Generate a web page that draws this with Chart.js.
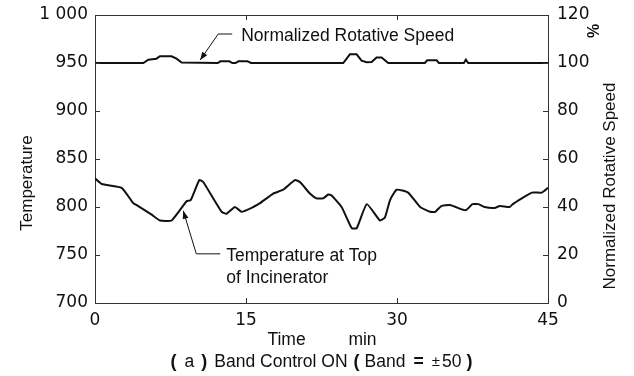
<!DOCTYPE html>
<html>
<head>
<meta charset="utf-8">
<script src="https://cdn.jsdelivr.net/npm/chart.js@4"></script>
<style>
  html, body { margin: 0; padding: 0; background: #fff; }
</style>
</head>
<body>
<canvas id="chart" width="634" height="376"></canvas>
<script>
// incinerator run: top temperature and normalized fan speed vs time (min)
const timeTicks = [0, 15, 30, 45];
const tempTicks = [700, 750, 800, 850, 900, 950, 1000];
const speedTicks = [0, 20, 40, 60, 80, 100, 120];

const tempTime = [0, 0.67, 2.65, 3.8, 4.14, 5.63, 6.45, 7.62, 9.1, 9.5, 10.36, 10.75, 12.58, 13.08, 13.9,
  14.57, 15.72, 16.39, 17.7, 18.7, 19.86, 20.36, 21.35, 22.0, 22.67, 23.17, 23.5, 24.5, 25.5, 26.0,
  27.0, 28.3, 28.8, 29.3, 29.96, 31.1, 32.3, 33.3, 33.8, 34.4, 35.25, 36.6, 36.9, 37.5, 38.1,
  38.7, 39.7, 40.2, 41.2, 41.5, 42.4, 43.4, 44.4, 45];
const tempValues = [830, 824, 820, 804, 802, 792, 786, 786, 806, 807, 828, 826, 795, 793, 800,
  795, 800, 804, 814, 818, 828, 826, 814, 809, 809, 813, 812, 800, 778, 778,
  803, 786, 789, 807, 818, 815, 800, 795, 795, 801, 802, 797, 797, 803, 803,
  800, 799, 801, 800, 803, 809, 815, 815, 820];

const speedTime = [0, 4.8, 5.3, 6.1, 6.45, 7.6, 8.1, 8.6, 12.2, 12.45, 13.35, 13.65, 13.95, 14.25, 15.15,
  15.5, 24.66, 25.32, 25.99, 26.48, 26.98, 27.48, 27.97, 28.47, 29.13, 32.77, 33.0, 33.93, 34.16,
  36.64, 36.84, 37.07, 45];
const speedValues = [100, 100, 101.4, 101.8, 102.8, 102.8, 101.8, 100.2, 100, 100.7, 100.7, 100, 100, 100.7, 100.7,
  100, 100, 103.6, 103.6, 101, 100.3, 100.4, 102.3, 102.3, 100, 100, 101.1, 101.1, 100,
  100, 101.4, 100, 100];

const INK = '#111';
const AXIS = '#333';
const TEXT_FONT = '"Liberation Sans", Arial, sans-serif';
const TICK_FONT = { family: '"DejaVu Sans", sans-serif', size: 17 };

const pairs = (xs, ys) => xs.map((x, i) => ({ x, y: ys[i] }));

// fixed box size per axis; drop the label overhang padding so the frame stays put
const fixedBox = (prop, size) => s => {
  s[prop] = size;
  s.paddingTop = s.paddingBottom = s.paddingLeft = s.paddingRight = 0;
};

// short inward tick marks on all four sides of the frame
const innerTicks = {
  id: 'innerTicks',
  afterDraw(chart) {
    const { ctx, chartArea: a, scales } = chart;
    const len = 5;
    ctx.save();
    ctx.strokeStyle = AXIS;
    ctx.lineWidth = 1;
    ctx.beginPath();
    timeTicks.slice(1, -1).forEach(t => {
      const px = Math.round(scales.x.getPixelForValue(t)) + 0.5;
      ctx.moveTo(px, a.bottom); ctx.lineTo(px, a.bottom - len);
      ctx.moveTo(px, a.top); ctx.lineTo(px, a.top + len);
    });
    tempTicks.slice(1, -1).forEach(v => {
      const py = Math.round(scales.y.getPixelForValue(v)) + 0.5;
      ctx.moveTo(a.left, py); ctx.lineTo(a.left + len, py);
    });
    speedTicks.slice(1, -1).forEach(v => {
      const py = Math.round(scales.y1.getPixelForValue(v)) + 0.5;
      ctx.moveTo(a.right, py); ctx.lineTo(a.right - len, py);
    });
    ctx.stroke();
    ctx.restore();
  }
};

function arrowHead(ctx, fromX, fromY, toX, toY) {
  const ang = Math.atan2(toY - fromY, toX - fromX);
  const l = 8, w = 3;
  ctx.beginPath();
  ctx.moveTo(toX, toY);
  ctx.lineTo(toX - l * Math.cos(ang) + w * Math.sin(ang), toY - l * Math.sin(ang) - w * Math.cos(ang));
  ctx.lineTo(toX - l * Math.cos(ang) - w * Math.sin(ang), toY - l * Math.sin(ang) + w * Math.cos(ang));
  ctx.closePath();
  ctx.fill();
}

// caption pieces: [text, font, gap after]
const captionParts = [
  ['(', 'bold 18px', 8], ['a', '17.5px', 7], [')', 'bold 18px', 7],
  ['Band Control ON', '17.5px', 6], ['(', 'bold 18px', 5], ['Band', '17.5px', 8],
  ['=', 'bold 17.5px', 8], ['±', '15px', 2], ['50', '17.5px', 5], [')', 'bold 18px', 0]
];

function drawCaption(ctx, cx, y) {
  let total = 0;
  captionParts.forEach(([t, f, g]) => { ctx.font = f + ' ' + TEXT_FONT; total += ctx.measureText(t).width + g; });
  let x = cx - total / 2;
  ctx.textAlign = 'left';
  captionParts.forEach(([t, f, g]) => {
    ctx.font = f + ' ' + TEXT_FONT;
    ctx.fillText(t, x, y);
    x += ctx.measureText(t).width + g;
  });
}

// leader labels, axis titles and the caption
const labels = {
  id: 'labels',
  afterDraw(chart) {
    const { ctx, chartArea: a, scales } = chart;
    ctx.save();
    ctx.fillStyle = INK;
    ctx.strokeStyle = INK;
    ctx.lineWidth = 1;
    ctx.textBaseline = 'middle';

    // speed leader
    let tx = scales.x.getPixelForValue(10.45), ty = scales.y1.getPixelForValue(100) - 3;
    let kx = tx + 18, ky = ty - 26;
    ctx.beginPath();
    ctx.moveTo(kx + 14, ky); ctx.lineTo(kx, ky); ctx.lineTo(tx, ty);
    ctx.stroke();
    arrowHead(ctx, kx, ky, tx, ty);
    ctx.font = '17.5px ' + TEXT_FONT;
    ctx.textAlign = 'left';
    ctx.fillText('Normalized Rotative Speed', kx + 23, ky + 2);

    // temperature leader
    tx = scales.x.getPixelForValue(8.77); ty = scales.y.getPixelForValue(796);
    kx = tx + 13; ky = ty + 43;
    ctx.beginPath();
    ctx.moveTo(kx + 24, ky); ctx.lineTo(kx, ky); ctx.lineTo(tx, ty);
    ctx.stroke();
    arrowHead(ctx, kx, ky, tx, ty);
    ctx.fillText('Temperature at Top', kx + 30, ky + 2);
    ctx.fillText('of Incinerator', kx + 30, ky + 24);

    // axis titles
    ctx.font = '17px ' + TEXT_FONT;
    ctx.textAlign = 'center';
    ctx.save();
    ctx.translate(27, 183);
    ctx.rotate(-Math.PI / 2);
    ctx.fillText('Temperature', 0, 0);
    ctx.restore();

    ctx.save();
    ctx.translate(610, 186);
    ctx.rotate(-Math.PI / 2);
    ctx.fillText('Normalized Rotative Speed', 0, 0);
    ctx.restore();

    ctx.save();
    ctx.translate(595, 31);
    ctx.rotate(-Math.PI / 2);
    ctx.font = 'bold 16px ' + TEXT_FONT;
    ctx.fillText('%', 0, 0);
    ctx.restore();

    const cx = (a.left + a.right) / 2;
    ctx.font = '17.5px ' + TEXT_FONT;
    ctx.fillText('Time', cx - 35, 340);
    ctx.fillText('min', cx + 41, 340);
    drawCaption(ctx, cx, 362);
    ctx.restore();
  }
};

new Chart(document.getElementById('chart'), {
  type: 'line',
  data: {
    datasets: [
      {
        label: 'Temperature at Top of Incinerator',
        data: pairs(tempTime, tempValues),
        yAxisID: 'y',
        borderColor: INK,
        borderWidth: 2,
        pointRadius: 0,
        pointHoverRadius: 0,
        tension: 0.15,
      },
      {
        label: 'Normalized Rotative Speed',
        data: pairs(speedTime, speedValues),
        yAxisID: 'y1',
        borderColor: INK,
        borderWidth: 2,
        pointRadius: 0,
        pointHoverRadius: 0,
        tension: 0,
      }
    ]
  },
  options: {
    responsive: false,
    animation: false,
    layout: { padding: 0, autoPadding: false },
    plugins: { legend: { display: false }, tooltip: { enabled: false } },
    scales: {
      x: {
        type: 'linear', position: 'bottom', min: 0, max: 45,
        afterBuildTicks: s => { s.ticks = timeTicks.map(value => ({ value })); },
        afterFit: fixedBox('height', 73),
        grid: { display: false, drawTicks: false },
        border: { display: true, color: AXIS, width: 1 },
        ticks: { color: INK, font: TICK_FONT, padding: 7, maxRotation: 0 }
      },
      x2: {
        type: 'linear', position: 'top', min: 0, max: 45,
        afterFit: fixedBox('height', 15),
        grid: { display: false, drawTicks: false },
        border: { display: true, color: AXIS, width: 1 },
        ticks: { display: false }
      },
      y: {
        type: 'linear', position: 'left', min: 700, max: 1000,
        afterBuildTicks: s => { s.ticks = tempTicks.map(value => ({ value })); },
        afterFit: fixedBox('width', 95),
        grid: { display: false, drawTicks: false },
        border: { display: true, color: AXIS, width: 1 },
        ticks: { color: INK, font: TICK_FONT, padding: 7, callback: v => v === 1000 ? '1 000' : String(v) }
      },
      y1: {
        type: 'linear', position: 'right', min: 0, max: 120,
        afterBuildTicks: s => { s.ticks = speedTicks.map(value => ({ value })); },
        afterFit: fixedBox('width', 86),
        grid: { display: false, drawTicks: false },
        border: { display: true, color: AXIS, width: 1 },
        ticks: { color: INK, font: TICK_FONT, padding: 9 }
      }
    }
  },
  plugins: [innerTicks, labels]
});
</script>
</body>
</html>
